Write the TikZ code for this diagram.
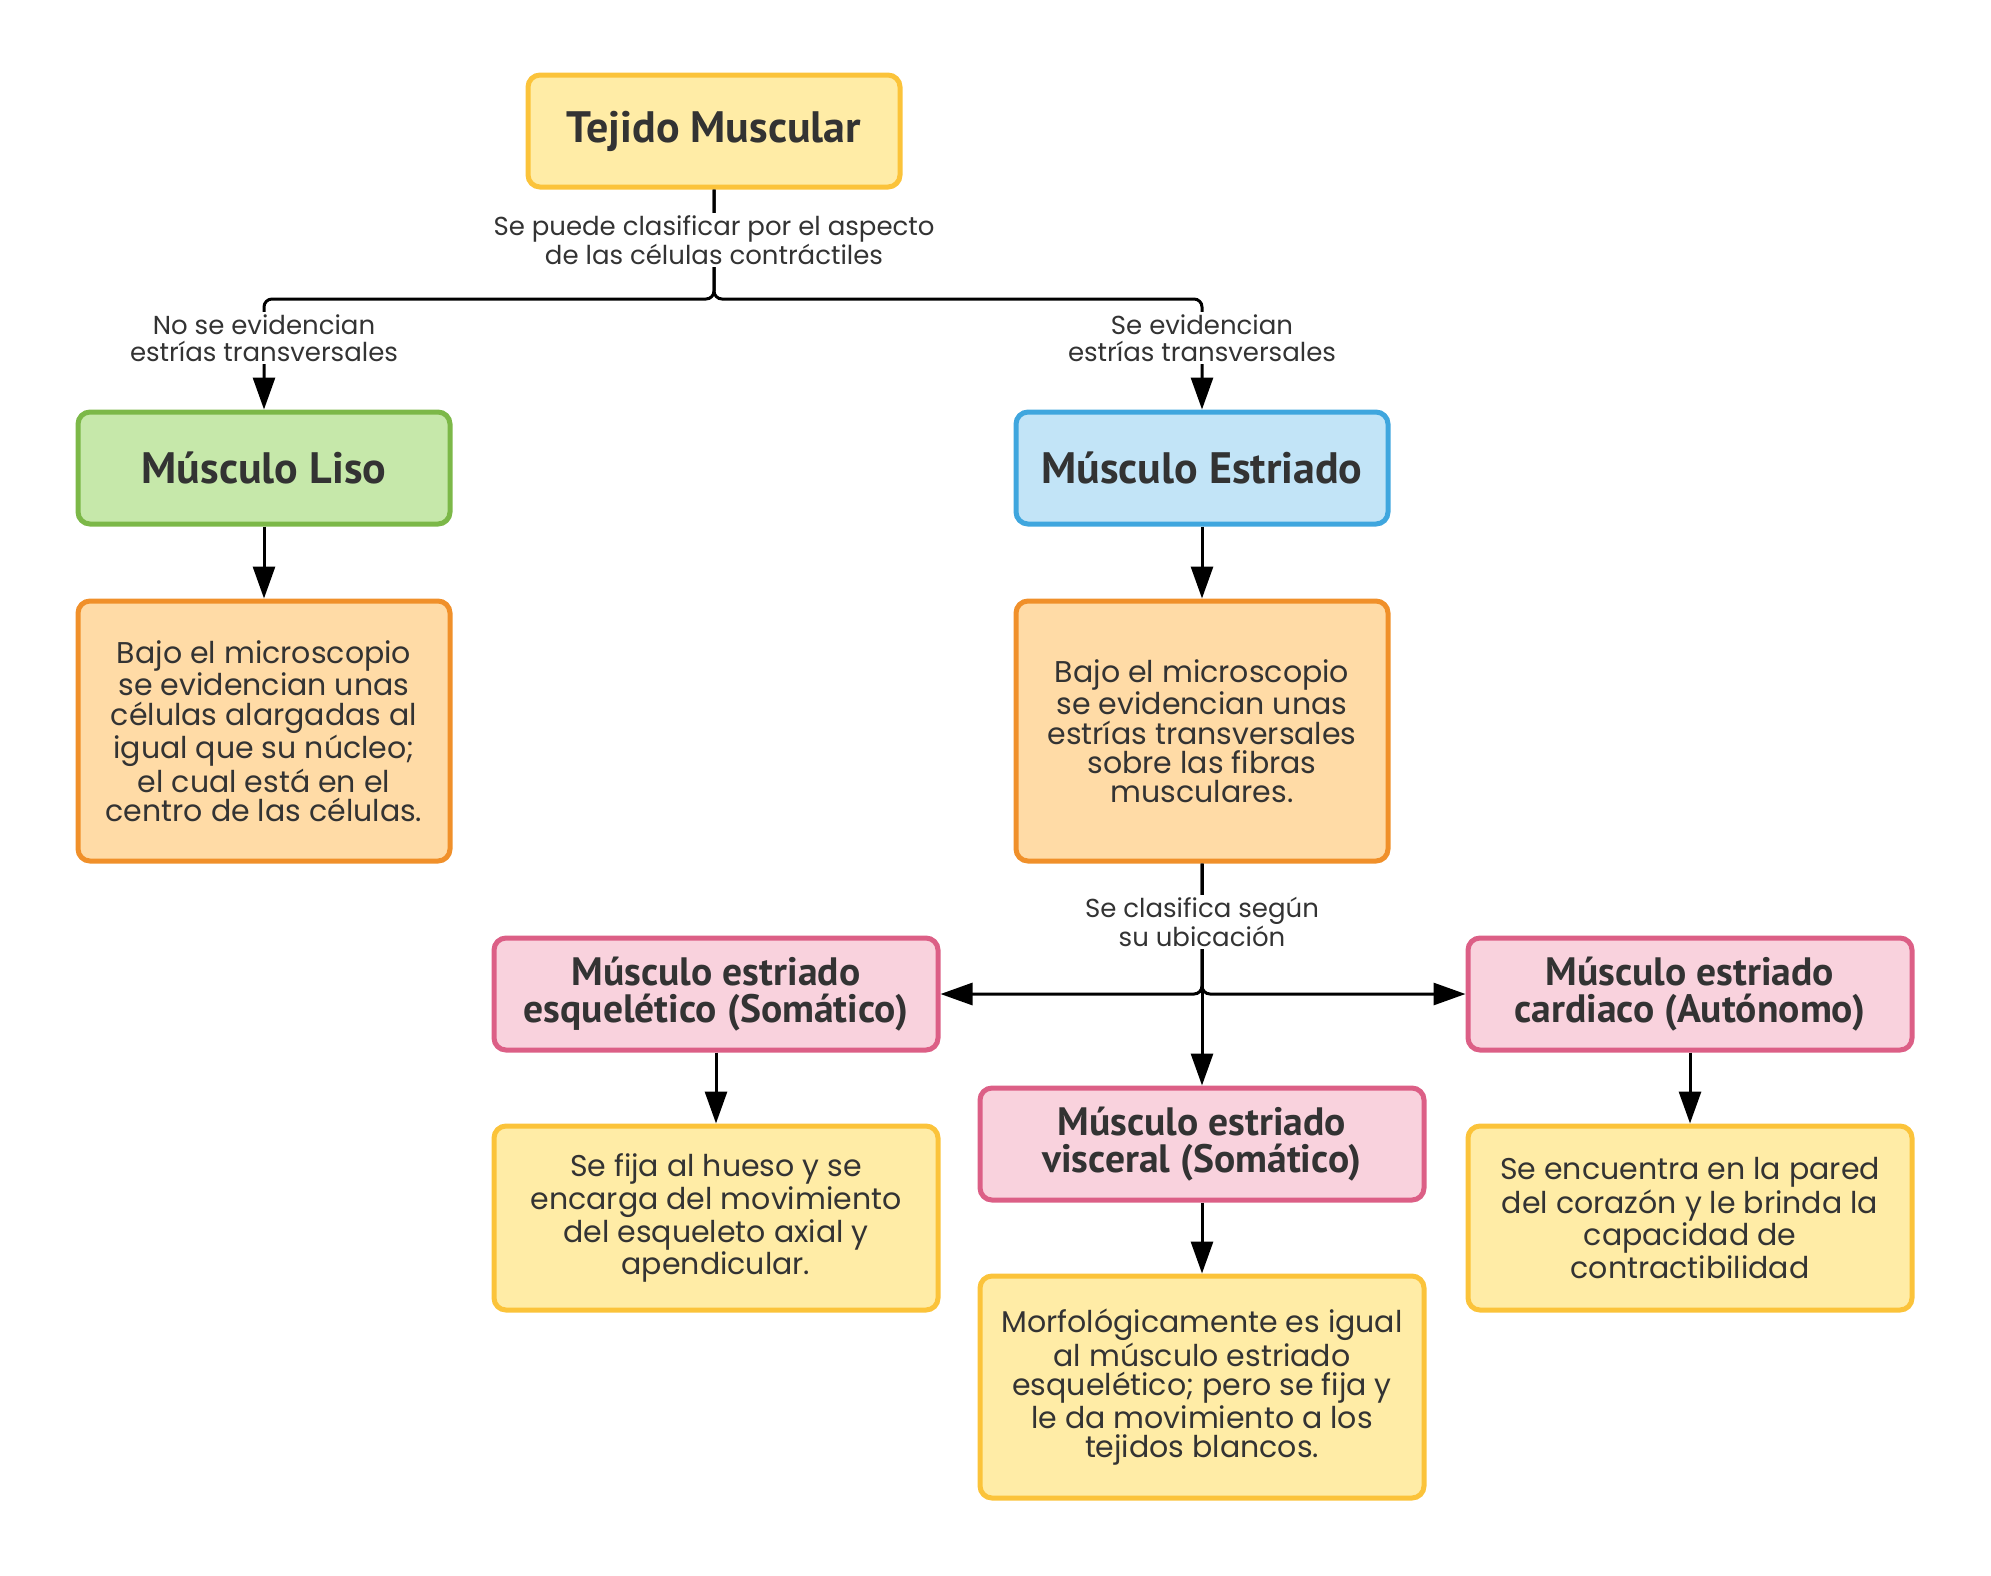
\documentclass[tikz,border=0pt]{standalone}
\usepackage{fontspec}
\setmainfont{Poppins}
\newfontfamily\headfont{PT Sans}
\usepackage{tikz}
\usetikzlibrary{arrows.meta, positioning}
\definecolor{TM-text}{HTML}{333333}
\definecolor{TM-yellow}{HTML}{FFECA6}
\definecolor{TM-yellow-line}{HTML}{FBC33A}
\definecolor{TM-green}{HTML}{C6E8AA}
\definecolor{TM-green-line}{HTML}{7CB848}
\definecolor{TM-blue}{HTML}{C2E4F7}
\definecolor{TM-blue-line}{HTML}{3FA6DE}
\definecolor{TM-orange}{HTML}{FFDBA6}
\definecolor{TM-orange-line}{HTML}{F0902A}
\definecolor{TM-pink}{HTML}{F9D2DD}
\definecolor{TM-pink-line}{HTML}{DC5F86}
\tikzset{%
    link/.style={%
        -{Triangle[length=16pt, width=11pt]},
        line width=1.5pt,
        rounded corners=4pt,
    },
    head/.style={%
        rectangle,
        line width=2.5pt,
        rounded corners=6pt,
        minimum width=186pt,
        minimum height=56pt,
        text=TM-text,
        font=\headfont\bfseries\fontsize{22}{24}\selectfont,
        align=center,
    },
    info/.style={%
        rectangle,
        line width=2.5pt,
        rounded corners=6pt,
        minimum width=186pt,
        text=TM-text,
        font=\fontsize{15}{14.6}\selectfont,
        align=center,
    },
    kind/.style={%
        head,
        minimum width=222pt,
        font=\headfont\bfseries\fontsize{19.8}{18.5}\selectfont,
    },
    note/.style={%
        fill=white,
        inner sep=1pt,
        text=TM-text,
        font=\fontsize{13}{13.5}\selectfont,
        align=center,
    },
}

\begin{document}
\begin{tikzpicture}[x=0.5pt, y=-0.5pt]
  \useasboundingbox (0,0) rectangle (1991,1575);

  \node [head, fill=TM-yellow, draw=TM-yellow-line] at (714,131) (tejido) {Tejido Muscular};
  \node [head, fill=TM-green, draw=TM-green-line] at (264,468) (liso) {Músculo Liso};
  \node [head, fill=TM-blue, draw=TM-blue-line] at (1202,468) (estriado) {Músculo Estriado};

  \node [info, fill=TM-orange, draw=TM-orange-line, minimum height=130pt] at (264,731) (liso_info)
    {Bajo el microscopio\\se evidencian unas\\células alargadas al\\igual que su núcleo;\\el cual está en el\\centro de las células.};
  \node [info, fill=TM-orange, draw=TM-orange-line, minimum height=130pt] at (1202,731) (estriado_info)
    {Bajo el microscopio\\se evidencian unas\\estrías transversales\\sobre las fibras\\musculares.};

  \node [kind, fill=TM-pink, draw=TM-pink-line] at (716,994) (esqueletico) {Músculo estriado\\esquelético (Somático)};
  \node [kind, fill=TM-pink, draw=TM-pink-line] at (1202,1144) (visceral) {Músculo estriado\\visceral (Somático)};
  \node [kind, fill=TM-pink, draw=TM-pink-line] at (1690,994) (cardiaco) {Músculo estriado\\cardiaco (Autónomo)};

  \node [info, fill=TM-yellow, draw=TM-yellow-line, minimum width=222pt, minimum height=92pt] at (716,1218) (esqueletico_info)
    {Se fija al hueso y se\\encarga del movimiento\\del esqueleto axial y\\apendicular.};
  \node [info, fill=TM-yellow, draw=TM-yellow-line, minimum width=222pt, minimum height=111pt] at (1202,1387) (visceral_info)
    {Morfológicamente es igual\\al músculo estriado\\esquelético; pero se fija y\\le da movimiento a los\\tejidos blancos.};
  \node [info, fill=TM-yellow, draw=TM-yellow-line, minimum width=222pt, minimum height=92pt] at (1690,1218) (cardiaco_info)
    {Se encuentra en la pared\\del corazón y le brinda la\\capacidad de\\contractibilidad};

  \coordinate (split_top) at (714,299);
  \coordinate (split_low) at (1202,994);

  \draw[link] (tejido.south) -- (split_top) -| (liso.north);
  \draw[link] (tejido.south) -- (split_top) -| (estriado.north);
  \draw[link] (liso) -- (liso_info);
  \draw[link] (estriado) -- (estriado_info);

  \draw[link] (estriado_info.south) -- (split_low) -- (esqueletico.east);
  \draw[link] (estriado_info.south) -- (split_low) -- (cardiaco.west);
  \draw[link] (estriado_info.south) -- (visceral.north);

  \draw[link] (esqueletico) -- (esqueletico_info);
  \draw[link] (visceral) -- (visceral_info);
  \draw[link] (cardiaco) -- (cardiaco_info);

  % labels on the connectors
  \node [note] at (714,240) (lbl_aspecto) {Se puede clasificar por el aspecto\\de las células contráctiles};
  \node [note] at (264,338) (lbl_no) {No se evidencian\\estrías transversales};
  \node [note] at (1202,338) (lbl_si) {Se evidencian\\estrías transversales};
  \node [note] at (1202,922) (lbl_ubicacion) {Se clasifica según\\su ubicación};
\end{tikzpicture}
\end{document}
